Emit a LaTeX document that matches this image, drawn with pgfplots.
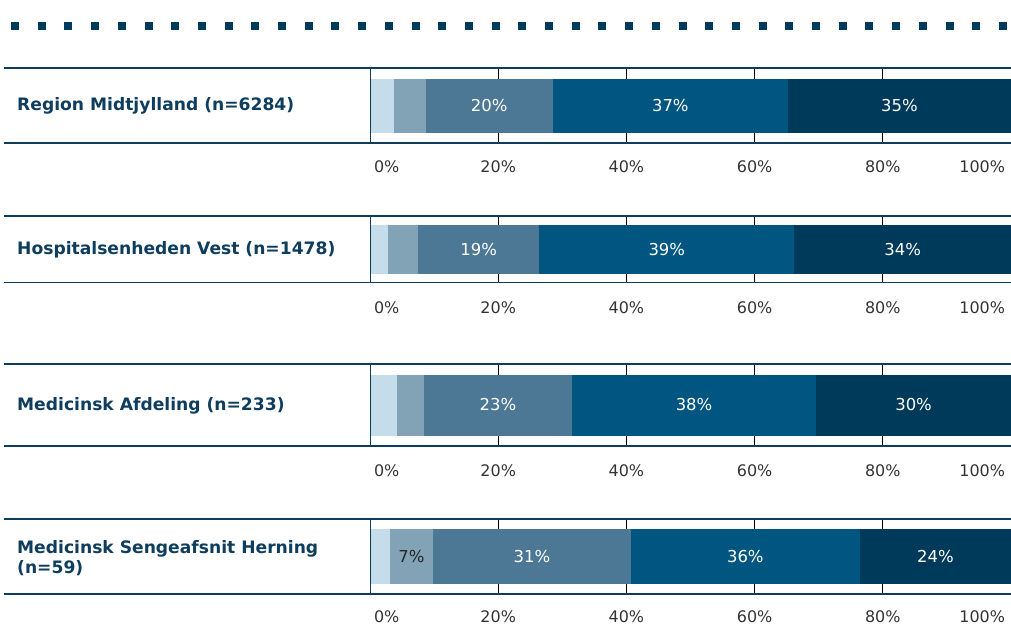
\documentclass[border=0pt]{standalone}
\usepackage{pgfplots}
\pgfplotsset{compat=1.18}
\usepackage{fontspec}
\setmainfont{DejaVu Sans}
\definecolor{c1}{HTML}{C5DDEA}
\definecolor{c2}{HTML}{82A2B6}
\definecolor{c3}{HTML}{4C7896}
\definecolor{c4}{HTML}{005681}
\definecolor{c5}{HTML}{003A5A}
\definecolor{navy}{HTML}{0E3D5E}
\definecolor{ticktext}{HTML}{333333}
\pgfplotsset{
  panel/.style n args={4}{
    at={(370bp,-#1bp)}, anchor=north west, scale only axis,
    width=641bp, height=#2bp, bar width=#3bp,
    xmin=0, xmax=100, ymin=0, ymax=1, xbar stacked,
    xtick={20,40,60,80}, xticklabels={20\%,40\%,60\%,80\%},
    extra x ticks={0,100},
    extra x tick labels={\makebox[0pt][l]{\hspace*{4bp}0\%},\makebox[0pt][r]{100\%\hspace*{6bp}}},
    extra x tick style={grid=none},
    ytick=\empty, major tick length=0pt,
    xmajorgrids, major grid style={black, line width=0.9bp},
    axis line style={draw=none},
    xticklabel style={anchor=center, yshift=-#4bp, font=\fontsize{16}{19}\selectfont, text=ticktext},
    clip=false,
  },
}
\tikzset{barlab/.style={font=\fontsize{16.5}{19}\selectfont, text=white, anchor=center}}
\begin{document}
\begin{tikzpicture}
\useasboundingbox (0,0) rectangle (1011bp,-627bp);
% dotted decorative line
\draw[c5, line width=8bp, dash pattern=on 8bp off 18.7bp] (11bp,-25.5bp) -- (1011bp,-25.5bp);

% ---------- Panel 1 ----------
\begin{axis}[panel={68}{75}{54}{24}]
\addplot[fill=c1, draw=none] coordinates {(3.7,0.5)};
\addplot[fill=c2, draw=none] coordinates {(5.0,0.5)};
\addplot[fill=c3, draw=none] coordinates {(19.8,0.5)};
\addplot[fill=c4, draw=none] coordinates {(36.7,0.5)};
\addplot[fill=c5, draw=none] coordinates {(34.8,0.5)};
\coordinate (a1) at (axis cs:18.6,0.5);
\coordinate (a2) at (axis cs:46.85,0.5);
\coordinate (a3) at (axis cs:82.6,0.5);
\end{axis}
\node[barlab] at (a1) {20\%};
\node[barlab] at (a2) {37\%};
\node[barlab] at (a3) {35\%};

% ---------- Panel 2 ----------
\begin{axis}[panel={216}{66.5}{49.5}{25}]
\addplot[fill=c1, draw=none] coordinates {(2.8,0.5)};
\addplot[fill=c2, draw=none] coordinates {(4.7,0.5)};
\addplot[fill=c3, draw=none] coordinates {(18.9,0.5)};
\addplot[fill=c4, draw=none] coordinates {(39.8,0.5)};
\addplot[fill=c5, draw=none] coordinates {(33.8,0.5)};
\coordinate (b1) at (axis cs:16.95,0.5);
\coordinate (b2) at (axis cs:46.3,0.5);
\coordinate (b3) at (axis cs:83.1,0.5);
\end{axis}
\node[barlab] at (b1) {19\%};
\node[barlab] at (b2) {39\%};
\node[barlab] at (b3) {34\%};

% ---------- Panel 3 ----------
\begin{axis}[panel={364}{82}{61}{25}]
\addplot[fill=c1, draw=none] coordinates {(4.2,0.5)};
\addplot[fill=c2, draw=none] coordinates {(4.2,0.5)};
\addplot[fill=c3, draw=none] coordinates {(23.1,0.5)};
\addplot[fill=c4, draw=none] coordinates {(38.1,0.5)};
\addplot[fill=c5, draw=none] coordinates {(30.4,0.5)};
\coordinate (c1p) at (axis cs:19.95,0.5);
\coordinate (c2p) at (axis cs:50.55,0.5);
\coordinate (c3p) at (axis cs:84.8,0.5);
\end{axis}
\node[barlab] at (c1p) {23\%};
\node[barlab] at (c2p) {38\%};
\node[barlab] at (c3p) {30\%};

% ---------- Panel 4 ----------
\begin{axis}[panel={519}{75}{55}{23}]
\addplot[fill=c1, draw=none] coordinates {(3.1,0.5)};
\addplot[fill=c2, draw=none] coordinates {(6.7,0.5)};
\addplot[fill=c3, draw=none] coordinates {(30.9,0.5)};
\addplot[fill=c4, draw=none] coordinates {(35.7,0.5)};
\addplot[fill=c5, draw=none] coordinates {(23.6,0.5)};
\coordinate (d0) at (axis cs:6.45,0.5);
\coordinate (d1) at (axis cs:25.25,0.5);
\coordinate (d2) at (axis cs:58.55,0.5);
\coordinate (d3) at (axis cs:88.2,0.5);
\end{axis}
\node[barlab, text=black!85] at (d0) {7\%};
\node[barlab] at (d1) {31\%};
\node[barlab] at (d2) {36\%};
\node[barlab] at (d3) {24\%};

% ---------- label boxes ----------
\foreach \t/\b in {68/143, 216/282.5, 364/446, 519/594}{
  \draw[navy, line width=1.6bp] (4bp,-\t bp) -- (1011bp,-\t bp);
  \draw[navy, line width=1.6bp] (4bp,-\b bp) -- (1011bp,-\b bp);
  \draw[navy, line width=0.8bp] (370bp,-\t bp) -- (370bp,-\b bp);
}
\begin{scope}[every node/.style={anchor=west, text=navy, font=\fontsize{17.2}{20}\selectfont\bfseries, inner sep=0pt}]
\node at (17bp,-105.5bp) {Region Midtjylland (n=6284)};
\node at (17bp,-249.5bp) {Hospitalsenheden Vest (n=1478)};
\node at (17bp,-405.5bp) {Medicinsk Afdeling (n=233)};
\node[align=left] at (17bp,-558bp) {Medicinsk Sengeafsnit Herning\\(n=59)};
\end{scope}
\end{tikzpicture}
\end{document}
